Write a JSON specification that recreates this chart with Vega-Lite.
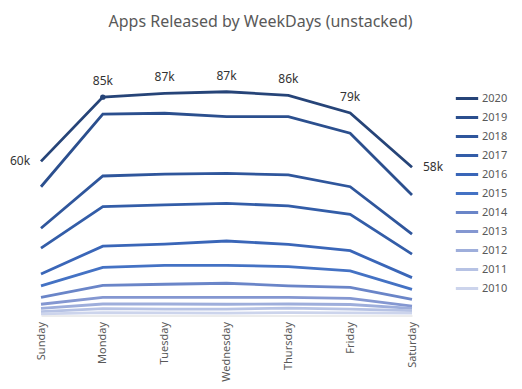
{
  "$schema": "https://vega.github.io/schema/vega-lite/v6.json",
  "width": 371,
  "height": 256,
  "autosize": {"type": "none"},
  "padding": {"left": 41, "top": 59.5, "right": 110, "bottom": 73.5},
  "background": "white",
  "config": {"view": {"stroke": null}, "font": "Noto Sans"},
  "title": {"text": "Apps Released by WeekDays (unstacked)", "fontSize": 16, "fontWeight": "normal", "color": "#595959", "anchor": "middle", "dx": 34, "offset": 30, "font": "Noto Sans"},
  "data": {"values": [
    {"day":"Sunday","year":"2020","k":60.2},{"day":"Monday","year":"2020","k":85.3},{"day":"Tuesday","year":"2020","k":86.8},{"day":"Wednesday","year":"2020","k":87.4},{"day":"Thursday","year":"2020","k":86.0},{"day":"Friday","year":"2020","k":79.1},{"day":"Saturday","year":"2020","k":57.9},
    {"day":"Sunday","year":"2019","k":50.3},{"day":"Monday","year":"2019","k":78.7},{"day":"Tuesday","year":"2019","k":79.0},{"day":"Wednesday","year":"2019","k":77.7},{"day":"Thursday","year":"2019","k":77.7},{"day":"Friday","year":"2019","k":71.2},{"day":"Saturday","year":"2019","k":47.1},
    {"day":"Sunday","year":"2018","k":34.1},{"day":"Monday","year":"2018","k":54.5},{"day":"Tuesday","year":"2018","k":55.2},{"day":"Wednesday","year":"2018","k":55.5},{"day":"Thursday","year":"2018","k":54.9},{"day":"Friday","year":"2018","k":50.3},{"day":"Saturday","year":"2018","k":31.8},
    {"day":"Sunday","year":"2017","k":26.3},{"day":"Monday","year":"2017","k":42.5},{"day":"Tuesday","year":"2017","k":43.2},{"day":"Wednesday","year":"2017","k":43.8},{"day":"Thursday","year":"2017","k":42.8},{"day":"Friday","year":"2017","k":39.5},{"day":"Saturday","year":"2017","k":24.0},
    {"day":"Sunday","year":"2016","k":16.2},{"day":"Monday","year":"2016","k":27.1},{"day":"Tuesday","year":"2016","k":27.9},{"day":"Wednesday","year":"2016","k":29.1},{"day":"Thursday","year":"2016","k":27.8},{"day":"Friday","year":"2016","k":25.3},{"day":"Saturday","year":"2016","k":14.8},
    {"day":"Sunday","year":"2015","k":11.6},{"day":"Monday","year":"2015","k":18.8},{"day":"Tuesday","year":"2015","k":19.6},{"day":"Wednesday","year":"2015","k":19.6},{"day":"Thursday","year":"2015","k":19.1},{"day":"Friday","year":"2015","k":17.4},{"day":"Saturday","year":"2015","k":10.2},
    {"day":"Sunday","year":"2014","k":7.1},{"day":"Monday","year":"2014","k":11.8},{"day":"Tuesday","year":"2014","k":12.2},{"day":"Wednesday","year":"2014","k":12.6},{"day":"Thursday","year":"2014","k":11.6},{"day":"Friday","year":"2014","k":11.0},{"day":"Saturday","year":"2014","k":6.3},
    {"day":"Sunday","year":"2013","k":4.4},{"day":"Monday","year":"2013","k":7.1},{"day":"Tuesday","year":"2013","k":7.1},{"day":"Wednesday","year":"2013","k":7.1},{"day":"Thursday","year":"2013","k":7.1},{"day":"Friday","year":"2013","k":6.7},{"day":"Saturday","year":"2013","k":3.7},
    {"day":"Sunday","year":"2012","k":2.8},{"day":"Monday","year":"2012","k":4.5},{"day":"Tuesday","year":"2012","k":4.5},{"day":"Wednesday","year":"2012","k":4.4},{"day":"Thursday","year":"2012","k":4.5},{"day":"Friday","year":"2012","k":4.3},{"day":"Saturday","year":"2012","k":2.8},
    {"day":"Sunday","year":"2011","k":1.5},{"day":"Monday","year":"2011","k":2.7},{"day":"Tuesday","year":"2011","k":2.5},{"day":"Wednesday","year":"2011","k":2.5},{"day":"Thursday","year":"2011","k":2.9},{"day":"Friday","year":"2011","k":2.5},{"day":"Saturday","year":"2011","k":1.9},
    {"day":"Sunday","year":"2010","k":0.6},{"day":"Monday","year":"2010","k":1.1},{"day":"Tuesday","year":"2010","k":1.0},{"day":"Wednesday","year":"2010","k":0.9},{"day":"Thursday","year":"2010","k":1.1},{"day":"Friday","year":"2010","k":1.0},{"day":"Saturday","year":"2010","k":0.9}
  ]},
  "encoding": {
    "x": {"field": "day", "type": "ordinal", "sort": ["Sunday","Monday","Tuesday","Wednesday","Thursday","Friday","Saturday"],
      "scale": {"type": "point", "padding": 0},
      "axis": {"title": null, "labelAngle": -90, "labelAlign": "right", "labelBaseline": "middle", "labelColor": "#595959", "labelFontSize": 11, "labelPadding": 6, "ticks": false, "domain": true, "domainColor": "#d9d9d9", "grid": false, "labelFont": "Noto Sans"}},
    "y": {"field": "k", "type": "quantitative", "scale": {"domain": [0, 100], "nice": false, "zero": true}, "axis": null}
  },
  "layer": [
    {
      "mark": {"type": "line", "strokeWidth": 2.8, "strokeJoin": "miter"},
      "encoding": {
        "color": {"field": "year", "type": "nominal",
          "scale": {"domain": ["2020","2019","2018","2017","2016","2015","2014","2013","2012","2011","2010"],
            "range": ["#264478","#2B4F8E","#2F569C","#335DA8","#3A66B8","#4472C4","#6A85C8","#8497D1","#9EAEDB","#B6C2E4","#CCD4EC"]},
          "legend": {"title": null, "orient": "none", "legendX": 413, "legendY": 26, "symbolType": "stroke", "symbolSize": 500, "symbolStrokeWidth": 3, "rowPadding": 0, "labelFontSize": 11, "labelColor": "#595959", "labelOffset": 2, "labelFont": "Noto Sans"}},
        "order": {"field": "year", "type": "ordinal", "sort": "ascending"}
      }
    },
    {
      "transform": [{"filter": "datum.year == '2020' && datum.day == 'Monday'"}],
      "mark": {"type": "point", "filled": true, "size": 30, "color": "#264478", "opacity": 1}
    },
    {
      "transform": [{"filter": "datum.year == '2020' && datum.day != 'Sunday' && datum.day != 'Saturday'"}, {"calculate": "round(datum.k) + 'k'", "as": "label"}],
      "mark": {"type": "text", "dy": -16, "fontSize": 12, "fontWeight": "normal", "color": "#333333", "font": "Noto Sans"},
      "encoding": {"text": {"field": "label"}}
    },
    {
      "transform": [{"filter": "datum.year == '2020' && datum.day == 'Sunday'"}, {"calculate": "round(datum.k) + 'k'", "as": "label"}],
      "mark": {"type": "text", "dx": -21, "fontSize": 12, "fontWeight": "normal", "color": "#333333", "font": "Noto Sans"},
      "encoding": {"text": {"field": "label"}}
    },
    {
      "transform": [{"filter": "datum.year == '2020' && datum.day == 'Saturday'"}, {"calculate": "round(datum.k) + 'k'", "as": "label"}],
      "mark": {"type": "text", "dx": 21, "fontSize": 12, "fontWeight": "normal", "color": "#333333", "font": "Noto Sans"},
      "encoding": {"text": {"field": "label"}}
    }
  ]
}
